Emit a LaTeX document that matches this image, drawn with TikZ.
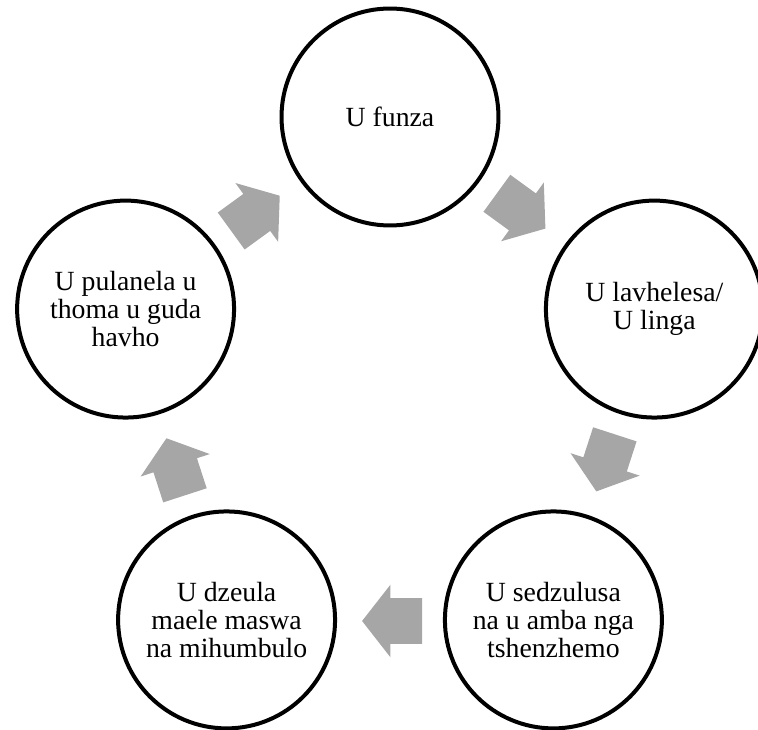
\documentclass[tikz,border=0pt]{standalone}
\usepackage{fontspec}
\setmainfont{Liberation Serif}
\usetikzlibrary{shapes.arrows}
\definecolor{cyclegray}{RGB}{166,166,166}
\tikzstyle{stage}=[circle,draw=black,line width=0.08cm,minimum size=4.34cm,inner sep=0pt,align=center,font=\fontsize{15.8}{16}\selectfont]
\tikzstyle{turn}=[single arrow,fill=cyclegray,draw=none,minimum height=1.2cm,inner xsep=0pt,inner ysep=0.45cm,single arrow head extend=0.27cm,single arrow tip angle=104,single arrow head indent=0pt]

\begin{document}
\begin{tikzpicture}[x=0.02cm,y=0.02cm]
    \useasboundingbox (-390,-335) rectangle (368,395);
    \coordinate (mid) at (0,0);
    % First we draw the stages
    \foreach \ang/\name/\txt in {90/funza/{U funza}, 18/lavhelesa/{U lavhelesa/\\U linga}, -54/sedzulusa/{U sedzulusa\\na u amba nga\\tshenzhemo}, -126/dzeula/{U dzeula\\maele maswa\\na mihumbulo}, 162/pulanela/{U pulanela u\\thoma u guda\\havho}}
        \node[stage] (\name) at (\ang:278) {\txt};

    % Then the arrows between them
    \foreach \ang/\name in {54/t1, -18/t2, -90/t3, -162/t4, 126/t5}
        \node[turn,rotate=\ang-90] (\name) at ([shift={(\ang+90:11)}]\ang:226) {};
\end{tikzpicture}
\end{document}
